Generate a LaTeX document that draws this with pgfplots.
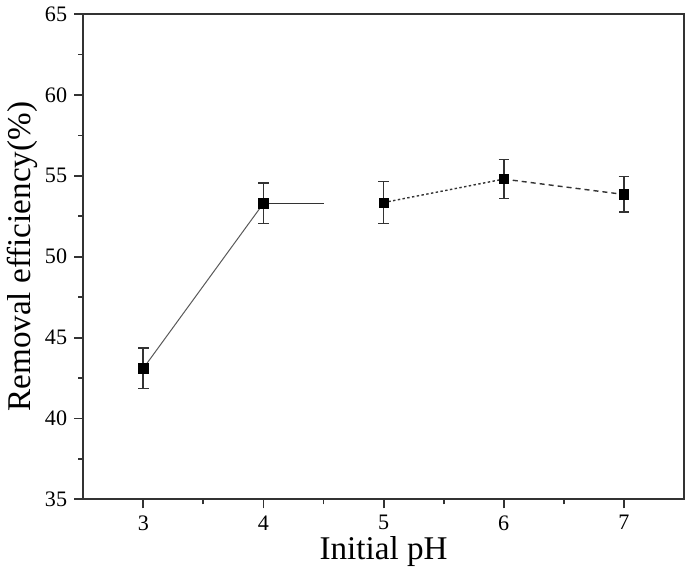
\documentclass[border=0pt]{standalone}
\usepackage{pgfplots}
\pgfplotsset{compat=1.18}
\usepackage{fontspec}
\setmainfont{Liberation Serif}
\begin{document}
\begin{tikzpicture}
\begin{axis}[
 scale only axis, width=299pt, height=241.5pt,
 xmin=2.5, xmax=7.5, ymin=35, ymax=65,
 xtick={3,4,5,6,7}, ytick={35,40,45,50,55,60,65},
 minor x tick num=1, minor y tick num=1,
 tick align=outside, tick pos=left,
 major tick length=4.5pt, minor tick length=2.5pt,
 axis line style={line width=1pt, black!80},
 every tick/.style={black!80, line width=0.9pt},
 /pgf/number format/assume math mode=true,
 ticklabel style={font=\fontsize{11}{12}\selectfont},
 xlabel={Initial pH}, ylabel={Removal efficiency(\%)},
 label style={font=\fontsize{16.5}{19}\selectfont},
 xlabel style={yshift=4pt},
 ylabel style={yshift=-3pt},
 clip=false,
]
% connecting segments
\addplot[black!65, line width=0.5pt] coordinates {(3,43.1) (4,53.3)};
\addplot[black!80, line width=0.6pt] coordinates {(4,53.3) (4.5,53.3)};
\addplot[black!80, line width=0.7pt, dash pattern=on 1.2pt off 1.2pt] coordinates {(5,53.35) (6,54.8)};
\addplot[black!80, line width=0.7pt, dash pattern=on 2.5pt off 2pt] coordinates {(6,54.8) (7,53.85)};
% markers with error bars
\addplot[only marks, mark=square*, mark size=2.3pt, black,
 error bars/.cd, y dir=both, y explicit,
 error bar style={line width=0.8pt, black!80},
 error mark options={rotate=90, mark size=2.6pt, line width=0.8pt, black!80}]
 coordinates {
 (3,43.1) +- (0,1.25)
 (4,53.3) +- (0,1.25)
 (5,53.35) +- (0,1.3)
 (6,54.8) +- (0,1.2)
 (7,53.85) +- (0,1.1)
 };
\end{axis}
\end{tikzpicture}
\end{document}
